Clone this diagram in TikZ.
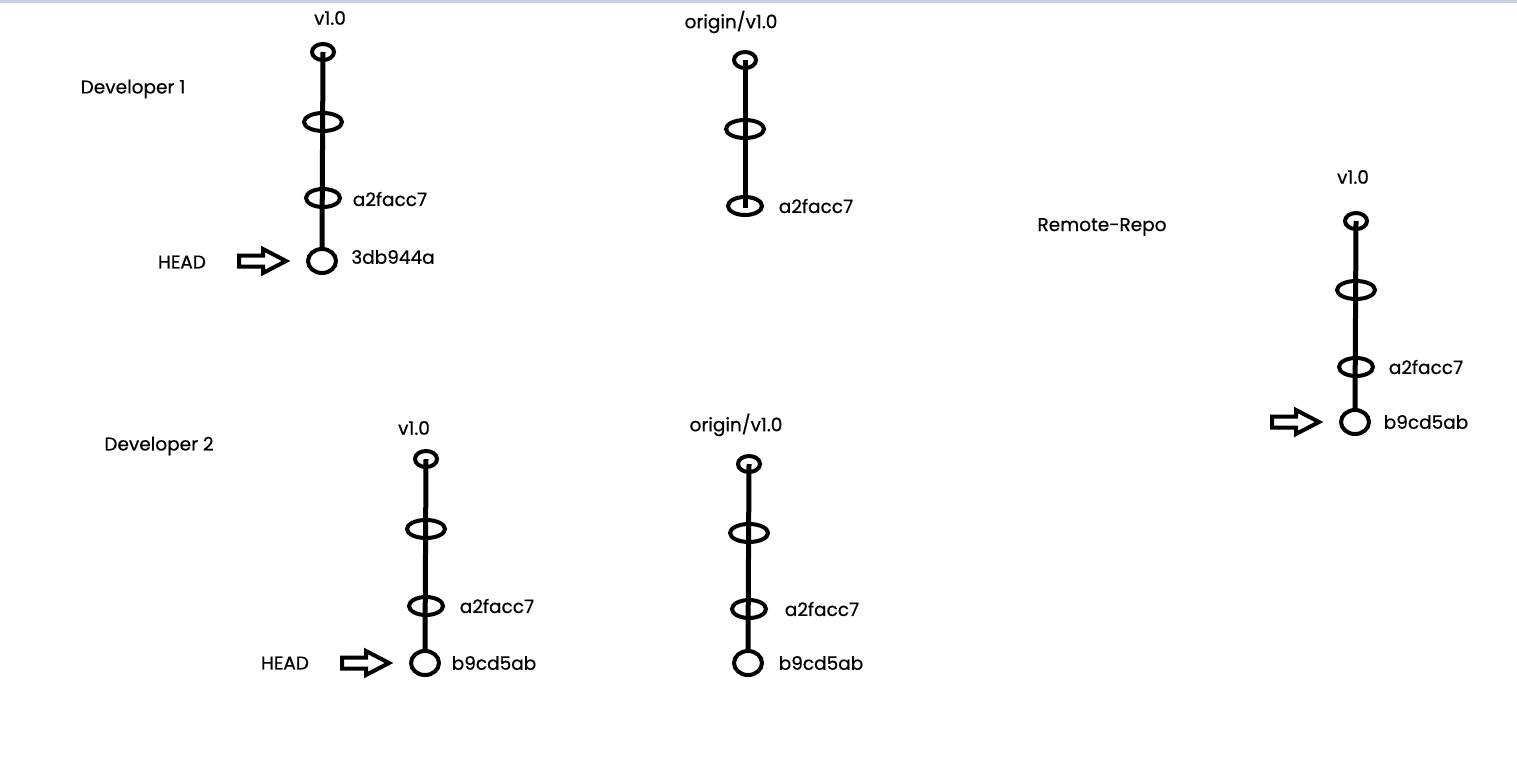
\documentclass[tikz,border=0pt]{standalone}
\usepackage{fontspec}
\setmainfont{Poppins}
\newfontfamily\lblfont{Poppins}[FakeBold=0.6]
\usetikzlibrary{shapes.geometric}
\definecolor{topband}{RGB}{200,210,228}
\tikzset{
  commitnode/.style={draw=black,ellipse,inner sep=0pt,line width=4pt},
  csmall/.style={commitnode,minimum width=22pt,minimum height=16pt},
  cwide/.style={commitnode,minimum width=38pt,minimum height=18pt},
  cmid/.style={commitnode,minimum width=34pt,minimum height=18pt},
  ccirc/.style={commitnode,minimum width=28pt,minimum height=24pt},
  lbl/.style={font=\lblfont\fontsize{18.5}{20}\selectfont,inner sep=0pt},
  trunk/.style={line width=5pt},
  harrow/.style={draw=black,line width=4pt,miter limit=10}
}
\newcommand{\headarrow}[1]{\draw[harrow] ([xshift=-20pt]#1.west) -- ++(-23,-12) -- ++(0,6.5) -- ++(-24,0) -- ++(0,11) -- ++(24,0) -- ++(0,6.5) -- cycle;}
\begin{document}
\begin{tikzpicture}[x=1pt,y=-1pt]
\useasboundingbox (0,0) rectangle (1517,771);
\fill[topband] (0,0) rectangle (1517,3);

% Developer 1 local
\node[lbl] (d1) at (133,89) {Developer 1};
\node[lbl] (d1tag) at (330,18) {v1.0};
\node[csmall] (a1) at (323,52) {};
\node[cwide] (a2) at (323,122) {};
\node[cmid] (a3) at (323,198) {};
\node[ccirc] (a4) at (322,261) {};
\draw[trunk] (a1.center) -- (a4.north);
\node[lbl] (a3l) at (390,199) {a2facc7};
\node[lbl] (a4l) at (393,257) {3db944a};
\node[lbl] (a4h) at (182,262) {HEAD};
\headarrow{a4}

% Developer 1 origin
\node[lbl] (o1tag) at (731,22) {origin/v1.0};
\node[csmall] (b1) at (745,60) {};
\node[cwide] (b2) at (745,129) {};
\node[cmid] (b3) at (745,206) {};
\draw[trunk] (b1.center) -- ([yshift=-2pt]b3.center);
\node[lbl] (b3l) at (816,206) {a2facc7};

% Remote
\node[lbl] (rr) at (1102,227) {Remote-Repo};
\node[lbl] (rtag) at (1353,177) {v1.0};
\node[csmall] (r1) at (1356,221) {};
\node[cwide] (r2) at (1356,290) {};
\node[cmid] (r3) at (1356,367) {};
\node[ccirc] (r4) at (1355,422) {};
\draw[trunk] (r1.center) -- (r4.north);
\node[lbl] (r3l) at (1426,367) {a2facc7};
\node[lbl] (r4l) at (1426,422) {b9cd5ab};
\headarrow{r4}

% Developer 2 local
\node[lbl] (d2) at (159,446) {Developer 2};
\node[lbl] (d2tag) at (414,428) {v1.0};
\node[csmall] (c1) at (426,459) {};
\node[cwide] (c2) at (426,529) {};
\node[cmid] (c3) at (426,606) {};
\node[ccirc] (c4) at (425,663) {};
\draw[trunk] (c1.center) -- (c4.north);
\node[lbl] (c3l) at (497,606) {a2facc7};
\node[lbl] (c4l) at (494,663) {b9cd5ab};
\node[lbl] (c4h) at (285,663) {HEAD};
\headarrow{c4}

% Developer 2 origin
\node[lbl] (o2tag) at (736,425) {origin/v1.0};
\node[csmall] (e1) at (749,464) {};
\node[cwide] (e2) at (749,533) {};
\node[cmid] (e3) at (749,609) {};
\node[ccirc] (e4) at (748,663) {};
\draw[trunk] (e1.center) -- (e4.north);
\node[lbl] (e3l) at (822,609) {a2facc7};
\node[lbl] (e4l) at (821,663) {b9cd5ab};
\end{tikzpicture}
\end{document}
